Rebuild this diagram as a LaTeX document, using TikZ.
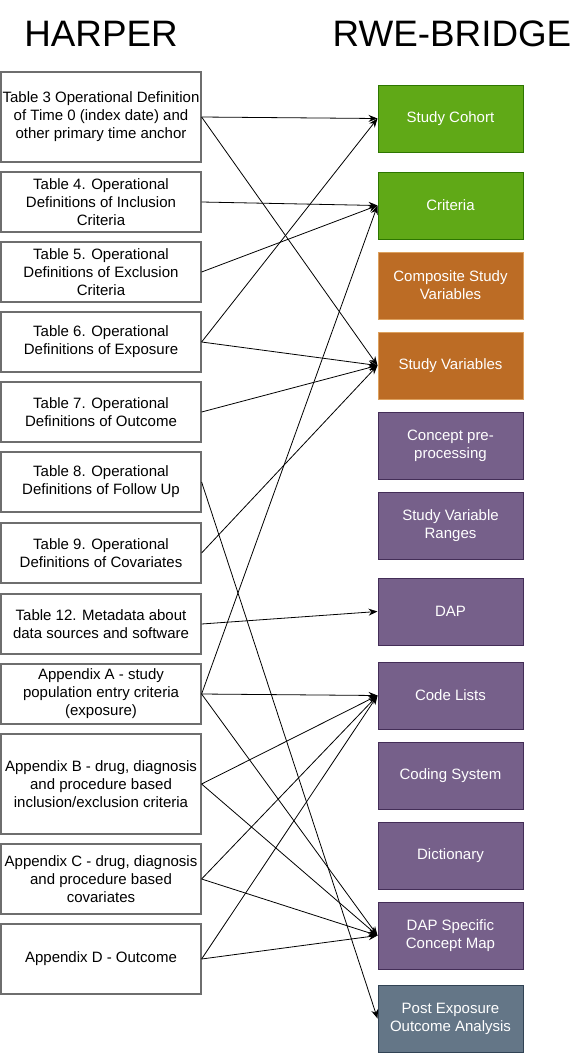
\documentclass[tikz,border=0pt]{standalone}
\usepackage{fontspec}
\setmainfont{Liberation Sans}
\usetikzlibrary{arrows.meta}
\definecolor{gfill}{HTML}{60A917}
\definecolor{gline}{HTML}{2D7600}
\definecolor{ofill}{HTML}{BC6C25}
\definecolor{oline}{HTML}{DDA15E}
\definecolor{pfill}{HTML}{76608A}
\definecolor{pline}{HTML}{432D57}
\definecolor{sfill}{HTML}{647687}
\definecolor{sline}{HTML}{314354}
\definecolor{lbox}{HTML}{6E6E6E}
\tikzset{
  src/.style={draw=lbox, line width=1.2pt, fill=white, minimum width=200pt, inner sep=0pt, align=center,
    font=\fontsize{15pt}{18pt}\selectfont, text=black},
  dst/.style={minimum width=145pt, minimum height=67pt, inner sep=0pt, align=center,
    font=\fontsize{15pt}{18pt}\selectfont, text=white, line width=1pt},
  green/.style={dst, fill=gfill, draw=gline},
  orange/.style={dst, fill=ofill, draw=oline},
  purple/.style={dst, fill=pfill, draw=pline},
  slate/.style={dst, fill=sfill, draw=sline},
  title/.style={font=\fontsize{36.8pt}{44pt}\selectfont, anchor=base, inner sep=0pt},
  link/.style={draw=black, line width=0.8pt, -{Stealth[length=9pt,width=7pt,inset=3pt]}}
}
\begin{document}
\begin{tikzpicture}[x=1pt,y=-1pt]
\useasboundingbox (0,0) rectangle (580,1053);
\node[title] (harper) at (101,46) {HARPER};
\node[title] (rwe) at (452,46) {RWE-BRIDGE};

% left boxes
\node[src, minimum height=90pt] (t3) at (101,117) {Table 3 Operational Definition\\of Time 0 (index date) and\\other primary time anchor};
\node[src, minimum height=60pt] (t4) at (101,202) {Table 4. Operational\\Definitions of Inclusion\\Criteria};
\node[src, minimum height=60pt] (t5) at (101,272) {Table 5. Operational\\Definitions of Exclusion\\Criteria};
\node[src, minimum height=60pt] (t6) at (101,342) {Table 6. Operational\\Definitions of Exposure};
\node[src, minimum height=60pt] (t7) at (101,412) {Table 7. Operational\\Definitions of Outcome};
\node[src, minimum height=60pt] (t8) at (101,482) {Table 8. Operational\\Definitions of Follow Up};
\node[src, minimum height=60pt] (t9) at (101,553) {Table 9. Operational\\Definitions of Covariates};
\node[src, minimum height=60pt] (t12) at (101,624) {Table 12. Metadata about\\data sources and software};
\node[src, minimum height=60pt] (aA) at (101,694) {Appendix A - study\\population entry criteria\\(exposure)};
\node[src, minimum height=100pt] (aB) at (101,784) {Appendix B - drug, diagnosis\\and procedure based\\inclusion/exclusion criteria};
\node[src, minimum height=70pt] (aC) at (101,879) {Appendix C - drug, diagnosis\\and procedure based\\covariates};
\node[src, minimum height=70pt] (aD) at (101,959) {Appendix D - Outcome};

% right boxes
\node[green] (sc) at (450.5,118.5) {Study Cohort};
\node[green] (cr) at (450.5,205.5) {Criteria};
\node[orange] (csv) at (450.5,285.5) {Composite Study\\Variables};
\node[orange] (sv) at (450.5,365.5) {Study Variables};
\node[purple] (cp) at (450.5,445.5) {Concept pre-\\processing};
\node[purple] (svr) at (450.5,525.5) {Study Variable\\Ranges};
\node[purple] (dap) at (450.5,611.5) {DAP};
\node[purple] (cl) at (450.5,695.5) {Code Lists};
\node[purple] (cs) at (450.5,775.5) {Coding System};
\node[purple] (dict) at (450.5,855.5) {Dictionary};
\node[purple] (dscm) at (450.5,935.5) {DAP Specific\\Concept Map};
\node[slate] (peoa) at (450.5,1018.5) {Post Exposure\\Outcome Analysis};

% connectors
\draw[link] (t3.east) -- (sc.west);
\draw[link] (t3.east) -- (sv.west);
\draw[link] (t4.east) -- (cr.west);
\draw[link] (t5.east) -- (cr.west);
\draw[link] (t6.east) -- (sc.west);
\draw[link] (t6.east) -- (sv.west);
\draw[link] (t7.east) -- (sv.west);
\draw[link] (t8.east) -- (peoa.west);
\draw[link] (t9.east) -- (sv.west);
\draw[link] (t12.east) -- (dap.west);
\draw[link] (aA.east) -- (cr.west);
\draw[link] (aA.east) -- (cl.west);
\draw[link] (aA.east) -- (dscm.west);
\draw[link] (aB.east) -- (cl.west);
\draw[link] (aB.east) -- (dscm.west);
\draw[link] (aC.east) -- (cl.west);
\draw[link] (aC.east) -- (dscm.west);
\draw[link] (aD.east) -- (cl.west);
\draw[link] (aD.east) -- (dscm.west);
\end{tikzpicture}
\end{document}
